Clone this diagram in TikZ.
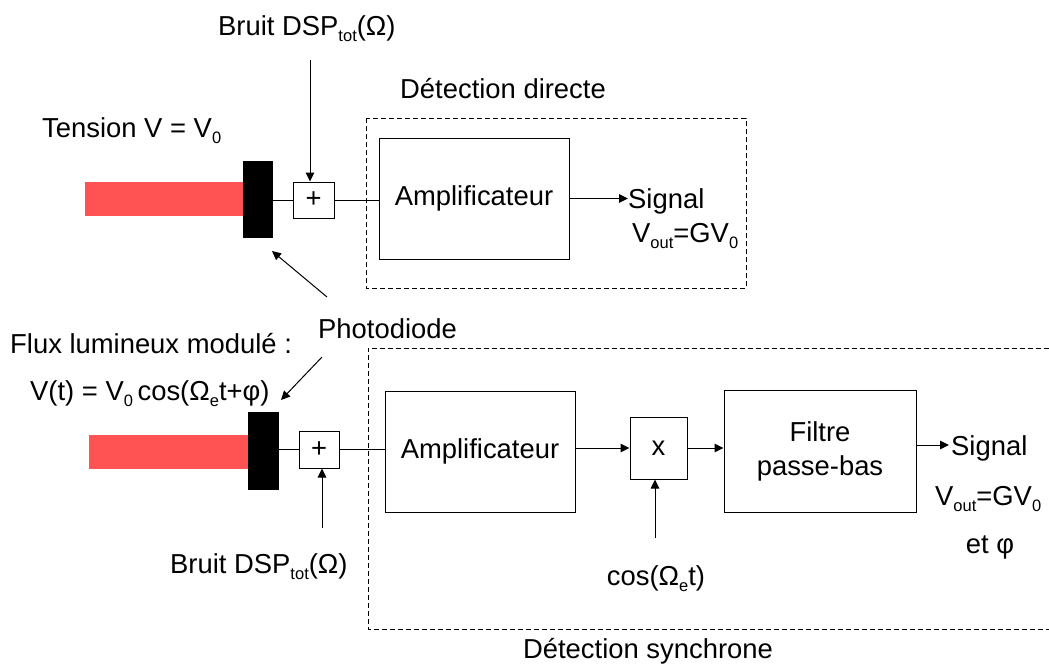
\documentclass[tikz,border=0pt]{standalone}
\usepackage{fontspec}
\setmainfont{Liberation Sans}
\usetikzlibrary{arrows.meta}
\definecolor{beamred}{RGB}{255,82,82}
\newcommand\lsub[1]{\raisebox{-6.5pt}{\fontsize{16.5}{18}\selectfont #1}}
\begin{document}
\begin{tikzpicture}[x=1pt,y=-1pt,
  font=\fontsize{27.4}{34}\selectfont,
  blk/.style={draw, line width=1pt, inner sep=0pt, align=center},
  beam/.style={fill=beamred, draw=none, inner sep=0pt, minimum width=#1, minimum height=34pt},
  pd/.style={fill=black, draw=none, inner sep=0pt, minimum width=30pt, minimum height=77pt},
  ln/.style={line width=1pt},
  arr/.style={line width=1pt, -{Triangle[length=9pt,width=8.5pt]}},
  dbox/.style={line width=0.9pt, dash pattern=on 5pt off 3pt},
  lbl/.style={inner sep=0pt}]
\useasboundingbox (0,0) rectangle (1049,667);

% ---------- top: direct detection ----------
\node[beam=158pt] (red1) at (164,199) {};
\node[pd] (pd1) at (258,199.5) {};
\node[blk, minimum width=41pt, minimum height=36pt] (plus1) at (313.5,200) {+};
\node[blk, minimum width=190pt, minimum height=121pt] (amp1) at (474,198.5) {Amplificateur};
\draw[dbox] (366,118) rectangle (746,288);
\node[lbl, anchor=base] (dd) at (503,98) {Détection directe};
\node[lbl, anchor=base west] (tens) at (42,137) {Tension V = V\lsub{0}};
\node[lbl, anchor=base west] (bruit1) at (218,35) {Bruit DSP\lsub{tot}(Ω)};
\node[lbl, anchor=base west] (sig1) at (628,208) {Signal};
\node[lbl, anchor=base west] (vout1) at (632,242) {V\lsub{out}=GV\lsub{0}};
\coordinate (n1) at (310,60);
\draw[arr] (n1) -- (n1 |- plus1.north);
\draw[ln] (pd1.east |- plus1.west) -- (plus1.west);
\draw[ln] (plus1.east) -- (amp1.west |- plus1.east);
\draw[arr] (amp1.east) -- (sig1.west |- amp1.east);

% ---------- photodiode label ----------
\node[lbl, anchor=base west] (photo) at (318,338) {Photodiode};
\coordinate (pa1s) at (327,297);
\coordinate (pa1e) at (272,251);
\draw[arr] (pa1s) -- (pa1e);
\coordinate (pa2s) at (322,357);
\coordinate (pa2e) at (281,400);
\draw[arr] (pa2s) -- (pa2e);

% ---------- bottom: synchronous detection ----------
\node[lbl, anchor=base west] (flux) at (10,353) {Flux lumineux modulé :};
\node[lbl, anchor=base west] (vt) at (30,400) {V(t) = V\lsub{0}\,cos(Ω\lsub{e}t+φ)};
\node[beam=160pt] (red2) at (169,452) {};
\node[pd, minimum width=31pt, minimum height=78pt] (pd2) at (263.5,451) {};
\node[blk, minimum width=40pt, minimum height=37pt] (plus2) at (319,449.5) {+};
\node[blk, minimum width=190pt, minimum height=121pt] (amp2) at (480,451.5) {Amplificateur};
\node[blk, minimum width=57pt, minimum height=62pt] (mult) at (658.5,448) {x};
\node[blk, minimum width=192pt, minimum height=122pt] (filt) at (820,451) {Filtre\\passe-bas};
\draw[dbox] (1049,348) -- (368,348) -- (368,629) -- (1049,629);
\node[lbl, anchor=base] (ds) at (648,658) {Détection synchrone};
\node[lbl, anchor=base west] (bruit2) at (170,573) {Bruit DSP\lsub{tot}(Ω)};
\node[lbl, anchor=base] (cosn) at (656,585) {cos(Ω\lsub{e}t)};
\node[lbl, anchor=base west] (sig2) at (951,455) {Signal};
\node[lbl, anchor=base west] (vout2) at (935,505) {V\lsub{out}=GV\lsub{0}};
\node[lbl, anchor=base] (etphi) at (990,553) {et φ};

\draw[ln] (pd2.east |- plus2.west) -- (plus2.west);
\draw[ln] (plus2.east) -- (amp2.west |- plus2.east);
\coordinate (n2) at (322,528);
\draw[arr] (n2) -- (n2 |- plus2.south);
\draw[arr] (amp2.east |- mult.west) -- (mult.west);
\draw[arr] (mult.east) -- (filt.west |- mult.east);
\draw[arr] (filt.east |- 0,445) -- (949,445);
\coordinate (c1) at (655,538);
\draw[arr] (c1) -- (c1 |- mult.south);
\end{tikzpicture}
\end{document}
